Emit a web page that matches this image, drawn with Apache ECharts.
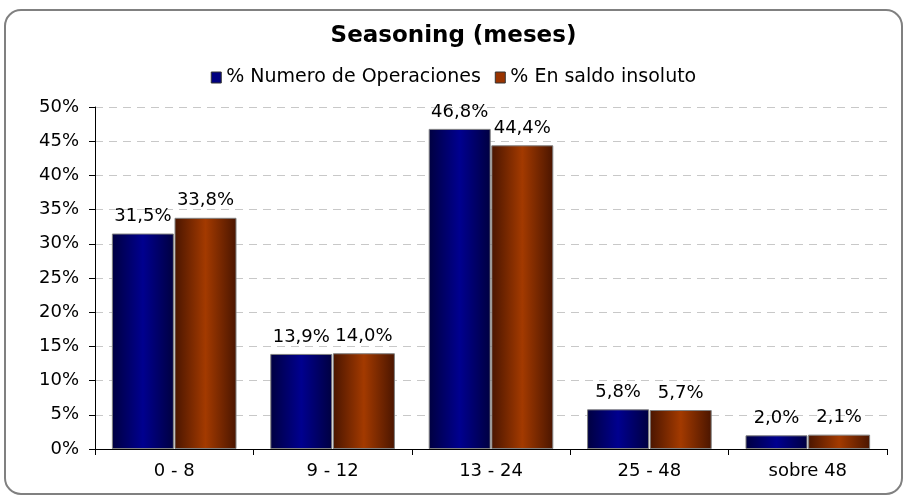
<!DOCTYPE html>
<html>
<head>
<meta charset="utf-8">
<script src="https://cdn.jsdelivr.net/npm/echarts@6/dist/echarts.min.js"></script>
<style>
  html, body { margin: 0; padding: 0; background: #fff; }
  #chart { width: 907px; height: 500px; }
</style>
</head>
<body>
<div id="chart"></div>
<script>
var categories = ['0 - 8', '9 - 12', '13 - 24', '25 - 48', 'sobre 48'];
var operaciones = [31.5, 13.9, 46.8, 5.8, 2.0];
var saldo = [33.8, 14.0, 44.4, 5.7, 2.1];
var seriesNames = ['% Numero de Operaciones', '% En saldo insoluto'];

var font = 'DejaVu Sans, Verdana, sans-serif';

function grad(edge, mid) {
  return new echarts.graphic.LinearGradient(0, 0, 1, 0, [
    { offset: 0, color: edge },
    { offset: 0.5, color: mid },
    { offset: 1, color: edge }
  ]);
}

function fmt(p) {
  return p.value.toFixed(1).replace('.', ',') + '%';
}

var chart = echarts.init(document.getElementById('chart'));
chart.setOption({
  animation: false,
  textStyle: { fontFamily: font },
  graphic: [{
    type: 'rect',
    shape: { x: 5, y: 10, width: 897, height: 484, r: 16 },
    style: { fill: 'none', stroke: '#808080', lineWidth: 2 },
    z: -1
  }],
  title: {
    text: 'Seasoning (meses)',
    left: 'center',
    top: 20,
    textStyle: { fontFamily: font, fontSize: 23, fontWeight: 'bold', color: '#000' }
  },
  legend: {
    data: [
      { name: seriesNames[0], itemStyle: { color: '#000080', borderColor: '#333', borderWidth: 1 } },
      { name: seriesNames[1], itemStyle: { color: '#993300', borderColor: '#333', borderWidth: 1 } }
    ],
    top: 63,
    left: 'center',
    itemWidth: 10,
    itemHeight: 11,
    itemGap: 14,
    icon: 'rect',
    textStyle: { fontFamily: font, fontSize: 19, color: '#000' }
  },
  grid: { left: 95, right: 20, top: 107, bottom: 51 },
  xAxis: {
    type: 'category',
    data: categories,
    axisLine: { lineStyle: { color: '#000' } },
    axisTick: { show: true, alignWithLabel: false, length: 6, lineStyle: { color: '#000' } },
    axisLabel: { fontFamily: font, fontSize: 18, color: '#000', margin: 13 }
  },
  yAxis: {
    type: 'value',
    min: 0,
    max: 50,
    interval: 5,
    axisLine: { show: true, lineStyle: { color: '#000' } },
    axisTick: { show: true, length: 6, lineStyle: { color: '#000' } },
    axisLabel: { fontFamily: font, fontSize: 18, color: '#000', margin: 16, formatter: '{value}%' },
    splitLine: { lineStyle: { color: '#c8c8c8', type: [8, 6] } }
  },
  series: [{
    name: seriesNames[0],
    type: 'bar',
    data: operaciones,
    barWidth: 62,
    barGap: '1%',
    itemStyle: { color: grad('#000040', '#00008f'), borderColor: '#808080', borderWidth: 1 },
    label: { show: true, position: 'top', distance: 8, formatter: fmt, fontFamily: font, fontSize: 18, color: '#000' }
  }, {
    name: seriesNames[1],
    type: 'bar',
    data: saldo,
    barWidth: 62,
    itemStyle: { color: grad('#4a1500', '#a33a00'), borderColor: '#808080', borderWidth: 1 },
    label: { show: true, position: 'top', distance: 8, formatter: fmt, fontFamily: font, fontSize: 18, color: '#000' }
  }]
});
</script>
</body>
</html>
